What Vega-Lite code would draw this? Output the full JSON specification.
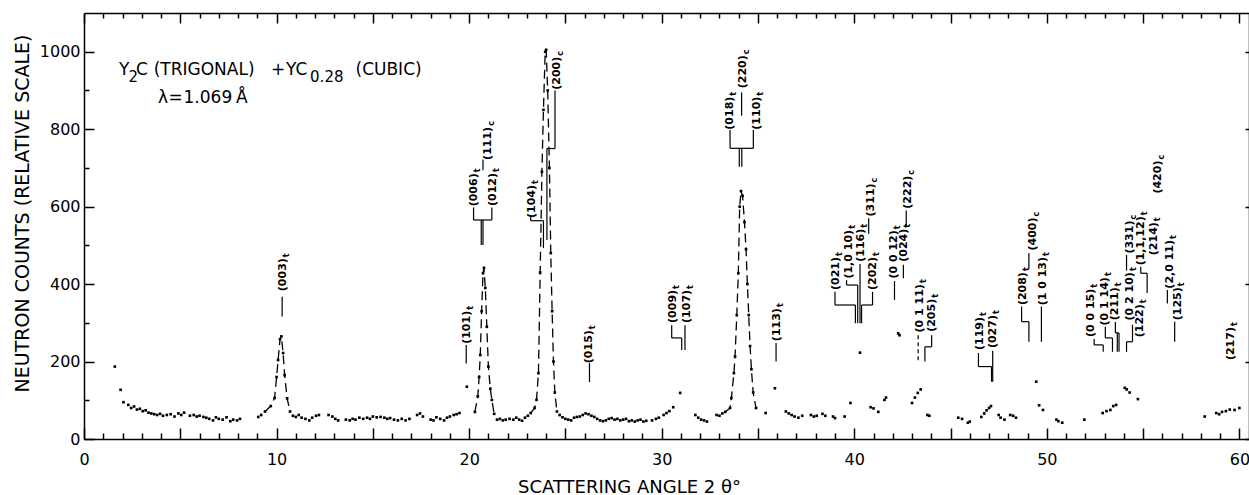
{
  "$schema": "https://vega.github.io/schema/vega-lite/v6.json",
  "width": 1165,
  "height": 426,
  "autosize": {"type": "none"},
  "padding": {"left": 84, "top": 13, "right": 0, "bottom": 56},
  "background": "white",
  "config": {
    "view": {"stroke": null},
    "font": "DejaVu Sans",
    "axis": {"labelFont": "DejaVu Sans", "titleFont": "DejaVu Sans", "labelColor": "black", "titleColor": "black", "domainColor": "black", "tickColor": "black", "grid": false, "domainWidth": 1.5, "tickWidth": 1.5, "labelOverlap": false, "labelFlush": false, "labelBound": false, "titleFontWeight": "normal"}
  },
  "datasets": {
    "pts": [
      {"x":1.6,"y":187},{"x":1.9,"y":127},{"x":2.05,"y":95},{"x":2.3,"y":88},{"x":2.45,"y":80},{"x":2.6,"y":84},{"x":2.75,"y":76},{"x":2.9,"y":78},{"x":3.05,"y":72},{"x":3.2,"y":74},{"x":3.35,"y":68},{"x":3.5,"y":66},{"x":3.65,"y":64},{"x":3.8,"y":62},{"x":3.95,"y":65},{"x":4.1,"y":60},{"x":4.3,"y":62},{"x":4.5,"y":64},{"x":4.7,"y":58},{"x":4.9,"y":66},{"x":5.05,"y":62},{"x":5.2,"y":68},{"x":5.5,"y":60},{"x":5.7,"y":62},{"x":5.85,"y":58},{"x":6.0,"y":60},{"x":6.2,"y":57},{"x":6.35,"y":55},{"x":6.5,"y":52},{"x":6.7,"y":48},{"x":6.85,"y":56},{"x":7.0,"y":52},{"x":7.2,"y":50},{"x":7.4,"y":56},{"x":7.6,"y":46},{"x":7.75,"y":50},{"x":7.95,"y":48},{"x":8.1,"y":52},
      {"x":9.05,"y":57},{"x":9.2,"y":62},
      {"x":9.4,"y":71,"pk":"a"},{"x":9.7,"y":85,"pk":"a"},{"x":9.9,"y":106,"pk":"a"},{"x":10.0,"y":160,"pk":"a"},{"x":10.08,"y":204,"pk":"a"},{"x":10.18,"y":258,"pk":"a"},{"x":10.25,"y":265,"pk":"a"},{"x":10.34,"y":222,"pk":"a"},{"x":10.42,"y":165,"pk":"a"},{"x":10.55,"y":105,"pk":"a"},{"x":10.7,"y":71,"pk":"a"},
      {"x":10.85,"y":60},{"x":11.0,"y":57},{"x":11.15,"y":62},{"x":11.3,"y":55},{"x":11.5,"y":52},{"x":11.7,"y":48},{"x":11.85,"y":55},{"x":12.05,"y":60},{"x":12.2,"y":62},{"x":12.7,"y":62},{"x":12.9,"y":58},{"x":13.05,"y":52},{"x":13.2,"y":48},{"x":13.6,"y":50},{"x":13.8,"y":48},{"x":13.95,"y":52},{"x":14.1,"y":50},{"x":14.3,"y":55},{"x":14.5,"y":52},{"x":14.7,"y":55},{"x":14.85,"y":52},{"x":15.0,"y":58},{"x":15.2,"y":56},{"x":15.4,"y":57},{"x":15.6,"y":55},{"x":15.75,"y":52},{"x":15.9,"y":54},{"x":16.1,"y":50},{"x":16.3,"y":48},{"x":16.5,"y":52},{"x":16.7,"y":48},{"x":16.9,"y":52},{"x":17.3,"y":62},{"x":17.45,"y":66},{"x":17.6,"y":58},{"x":18.0,"y":50},{"x":18.15,"y":48},{"x":18.3,"y":56},{"x":18.5,"y":52},{"x":18.7,"y":48},{"x":18.85,"y":55},{"x":19.0,"y":58},{"x":19.2,"y":62},{"x":19.35,"y":64},{"x":19.5,"y":67},{"x":19.88,"y":135},
      {"x":20.3,"y":70,"pk":"b"},{"x":20.45,"y":110,"pk":"b"},{"x":20.52,"y":160,"pk":"b"},{"x":20.58,"y":217,"pk":"b"},{"x":20.65,"y":330,"pk":"b"},{"x":20.72,"y":428,"pk":"b"},{"x":20.77,"y":442,"pk":"b"},{"x":20.84,"y":390,"pk":"b"},{"x":20.92,"y":290,"pk":"b"},{"x":21.0,"y":187,"pk":"b"},{"x":21.1,"y":130,"pk":"b"},{"x":21.18,"y":101,"pk":"b"},{"x":21.3,"y":65,"pk":"b"},
      {"x":21.45,"y":50},{"x":21.6,"y":52},{"x":21.75,"y":48},{"x":21.9,"y":50},{"x":22.1,"y":52},{"x":22.3,"y":50},{"x":22.45,"y":55},{"x":22.6,"y":50},{"x":22.75,"y":47},{"x":22.9,"y":55},{"x":23.05,"y":60},
      {"x":23.2,"y":67,"pk":"c"},{"x":23.4,"y":80,"pk":"c"},{"x":23.5,"y":101,"pk":"c"},{"x":23.6,"y":170,"pk":"c"},{"x":23.69,"y":430,"pk":"c"},{"x":23.78,"y":690,"pk":"c"},{"x":23.86,"y":850,"pk":"c"},{"x":23.95,"y":1000,"pk":"c"},{"x":24.0,"y":1005,"pk":"c"},{"x":24.08,"y":900,"pk":"c"},{"x":24.17,"y":700,"pk":"c"},{"x":24.24,"y":480,"pk":"c"},{"x":24.31,"y":330,"pk":"c"},{"x":24.38,"y":200,"pk":"c"},{"x":24.45,"y":120,"pk":"c"},{"x":24.56,"y":71,"pk":"c"},
      {"x":24.7,"y":62},{"x":24.85,"y":56},{"x":25.0,"y":52},{"x":25.15,"y":50},{"x":25.3,"y":48},{"x":25.45,"y":55},{"x":25.6,"y":57},{"x":25.75,"y":58},{"x":25.9,"y":62},{"x":26.05,"y":66},{"x":26.2,"y":64},{"x":26.35,"y":60},{"x":26.5,"y":57},{"x":26.65,"y":52},{"x":26.8,"y":48},{"x":26.95,"y":46},{"x":27.1,"y":48},{"x":27.25,"y":52},{"x":27.4,"y":54},{"x":27.55,"y":50},{"x":27.7,"y":52},{"x":27.85,"y":48},{"x":28.0,"y":50},{"x":28.15,"y":52},{"x":28.3,"y":46},{"x":28.45,"y":48},{"x":28.6,"y":45},{"x":28.75,"y":48},{"x":28.9,"y":50},{"x":29.05,"y":45},{"x":29.2,"y":47},{"x":29.5,"y":48},{"x":29.7,"y":52},{"x":29.85,"y":55},{"x":30.1,"y":62},{"x":30.25,"y":67},{"x":30.4,"y":72},{"x":30.6,"y":82},{"x":30.96,"y":119},
      {"x":31.75,"y":62},{"x":31.9,"y":55},{"x":32.05,"y":50},{"x":32.2,"y":48},{"x":32.35,"y":45},{"x":32.85,"y":62},{"x":33.0,"y":60},{"x":33.15,"y":66},
      {"x":33.3,"y":70,"pk":"d"},{"x":33.55,"y":80,"pk":"d"},{"x":33.62,"y":106,"pk":"d"},{"x":33.75,"y":170,"pk":"d"},{"x":33.81,"y":213,"pk":"d"},{"x":33.9,"y":320,"pk":"d"},{"x":33.98,"y":428,"pk":"d"},{"x":34.05,"y":600,"pk":"d"},{"x":34.12,"y":640,"pk":"d"},{"x":34.2,"y":628,"pk":"d"},{"x":34.3,"y":560,"pk":"d"},{"x":34.38,"y":490,"pk":"d"},{"x":34.45,"y":400,"pk":"d"},{"x":34.52,"y":320,"pk":"d"},{"x":34.59,"y":240,"pk":"d"},{"x":34.66,"y":180,"pk":"d"},{"x":34.75,"y":120,"pk":"d"},{"x":34.9,"y":80,"pk":"d"},
      {"x":35.4,"y":67},{"x":35.88,"y":131},{"x":36.45,"y":71},{"x":36.6,"y":66},{"x":36.75,"y":62},{"x":36.9,"y":58},{"x":37.1,"y":55},{"x":37.3,"y":60},{"x":37.75,"y":62},{"x":37.9,"y":58},{"x":38.05,"y":60},{"x":38.35,"y":65},{"x":38.5,"y":60},{"x":38.9,"y":58},{"x":39.0,"y":54},{"x":39.5,"y":58},{"x":39.8,"y":93},{"x":40.3,"y":223},{"x":40.85,"y":82},{"x":41.0,"y":79},{"x":41.25,"y":70},{"x":41.57,"y":101},{"x":41.65,"y":107},{"x":42.28,"y":273},{"x":42.35,"y":268},{"x":43.0,"y":93},{"x":43.15,"y":107},{"x":43.3,"y":119},{"x":43.45,"y":128},{"x":43.8,"y":62},{"x":43.9,"y":60},{"x":45.4,"y":55},{"x":45.6,"y":52},{"x":45.9,"y":42},{"x":46.0,"y":45},{"x":46.6,"y":57},{"x":46.75,"y":66},{"x":46.87,"y":74},{"x":47.0,"y":80},{"x":47.1,"y":85},{"x":47.5,"y":62},{"x":47.6,"y":55},{"x":47.8,"y":50},{"x":48.1,"y":62},{"x":48.25,"y":60},{"x":48.4,"y":55},{"x":49.45,"y":148},{"x":49.6,"y":87},{"x":49.8,"y":75},{"x":50.5,"y":50},{"x":50.6,"y":46},{"x":50.8,"y":42},{"x":51.95,"y":50},{"x":52.9,"y":67},{"x":53.1,"y":72},{"x":53.3,"y":75},{"x":53.45,"y":85},{"x":53.6,"y":88},{"x":54.05,"y":132},{"x":54.15,"y":128},{"x":54.3,"y":120},{"x":54.73,"y":103},{"x":58.2,"y":58},{"x":58.8,"y":67},{"x":58.95,"y":64},{"x":59.1,"y":70},{"x":59.3,"y":72},{"x":59.5,"y":76},{"x":59.75,"y":75},{"x":60.0,"y":80}
    ],
    "labels": [
      {"lx":10.33,"ly":467,"lt":"(003)","ls":"t"},
      {"lx":19.88,"ly":331,"lt":"(101)","ls":"t"},
      {"lx":20.23,"ly":686,"lt":"(006)","ls":"t"},
      {"lx":21.22,"ly":687,"lt":"(012)","ls":"t"},
      {"lx":21.0,"ly":806,"lt":"(111)","ls":"c"},
      {"lx":23.26,"ly":656,"lt":"(104)","ls":"t"},
      {"lx":24.55,"ly":987,"lt":"(200)","ls":"c"},
      {"lx":26.25,"ly":281,"lt":"(015)","ls":"t"},
      {"lx":30.61,"ly":385,"lt":"(009)","ls":"t"},
      {"lx":31.3,"ly":385,"lt":"(107)","ls":"t"},
      {"lx":33.55,"ly":884,"lt":"(018)","ls":"t"},
      {"lx":34.24,"ly":991,"lt":"(220)","ls":"c"},
      {"lx":34.93,"ly":884,"lt":"(110)","ls":"t"},
      {"lx":35.97,"ly":338,"lt":"(113)","ls":"t"},
      {"lx":39.05,"ly":470,"lt":"(021)","ls":"t"},
      {"lx":39.74,"ly":540,"lt":"(1,0 10)","ls":"t"},
      {"lx":40.37,"ly":543,"lt":"(116)","ls":"t"},
      {"lx":40.85,"ly":660,"lt":"(311)","ls":"c"},
      {"lx":40.99,"ly":470,"lt":"(202)","ls":"t"},
      {"lx":42.09,"ly":539,"lt":"(0 0 12)","ls":"t"},
      {"lx":42.6,"ly":543,"lt":"(024)","ls":"t"},
      {"lx":42.8,"ly":680,"lt":"(222)","ls":"c"},
      {"lx":43.41,"ly":400,"lt":"(0 1 11)","ls":"t"},
      {"lx":44.02,"ly":362,"lt":"(205)","ls":"t"},
      {"lx":46.52,"ly":315,"lt":"(119)","ls":"t"},
      {"lx":47.21,"ly":320,"lt":"(027)","ls":"t"},
      {"lx":48.77,"ly":431,"lt":"(208)","ls":"t"},
      {"lx":49.3,"ly":572,"lt":"(400)","ls":"c"},
      {"lx":49.81,"ly":470,"lt":"(1 0 13)","ls":"t"},
      {"lx":52.32,"ly":388,"lt":"(0 0 15)","ls":"t"},
      {"lx":53.01,"ly":418,"lt":"(0 1 14)","ls":"t"},
      {"lx":53.53,"ly":392,"lt":"(211)","ls":"t"},
      {"lx":54.3,"ly":431,"lt":"(0 2 10)","ls":"t"},
      {"lx":54.3,"ly":564,"lt":"(331)","ls":"c"},
      {"lx":54.82,"ly":348,"lt":"(122)","ls":"t"},
      {"lx":54.91,"ly":575,"lt":"(1,1,12)","ls":"t"},
      {"lx":55.56,"ly":560,"lt":"(214)","ls":"t"},
      {"lx":55.77,"ly":719,"lt":"(420)","ls":"c"},
      {"lx":56.38,"ly":514,"lt":"(2,0 11)","ls":"t"},
      {"lx":56.81,"ly":392,"lt":"(125)","ls":"t"},
      {"lx":59.58,"ly":289,"lt":"(217)","ls":"t"}
    ],
    "rules": [
      {"x":10.29,"y":367,"x2":10.29,"y2":316},
      {"x":19.85,"y":243,"x2":19.85,"y2":195},
      {"x":20.23,"y":598,"x2":20.23,"y2":565.5},{"x":21.18,"y":598,"x2":21.18,"y2":565.5},{"x":20.23,"y":565.5,"x2":21.18,"y2":565.5},{"x":20.63,"y":565.5,"x2":20.63,"y2":501},{"x":20.72,"y":565.5,"x2":20.72,"y2":501},{"x":20.72,"y":694,"x2":20.72,"y2":722},
      {"x":23.2,"y":578,"x2":23.2,"y2":563.6},{"x":23.2,"y":563.6,"x2":23.86,"y2":563.6},{"x":23.86,"y":563.6,"x2":23.86,"y2":493},
      {"x":24.46,"y":900,"x2":24.46,"y2":750},{"x":24.46,"y":750,"x2":24.04,"y2":750},{"x":24.04,"y":750,"x2":24.04,"y2":514},
      {"x":26.25,"y":196,"x2":26.25,"y2":147},
      {"x":30.52,"y":294,"x2":30.52,"y2":261},{"x":30.52,"y":261,"x2":31.04,"y2":261},{"x":31.04,"y":261,"x2":31.04,"y2":230},{"x":31.21,"y":294,"x2":31.21,"y2":230},
      {"x":33.55,"y":798,"x2":33.55,"y2":750.6},{"x":34.76,"y":798,"x2":34.76,"y2":750.6},{"x":33.55,"y":750.6,"x2":34.76,"y2":750.6},{"x":34.03,"y":750.6,"x2":34.03,"y2":703},{"x":34.16,"y":750.6,"x2":34.16,"y2":703},{"x":34.15,"y":835,"x2":34.15,"y2":895},
      {"x":35.94,"y":248,"x2":35.94,"y2":200},
      {"x":39.0,"y":380,"x2":39.0,"y2":346},{"x":39.0,"y":346,"x2":40.06,"y2":346},{"x":40.06,"y":346,"x2":40.06,"y2":299},
      {"x":39.6,"y":410,"x2":39.6,"y2":397.6},{"x":39.6,"y":397.6,"x2":40.18,"y2":397.6},{"x":40.18,"y":397.6,"x2":40.18,"y2":299},
      {"x":40.3,"y":452,"x2":40.3,"y2":299},
      {"x":40.75,"y":530,"x2":40.75,"y2":570},
      {"x":40.95,"y":380,"x2":40.95,"y2":346},{"x":40.95,"y":346,"x2":40.38,"y2":346},{"x":40.38,"y":346,"x2":40.38,"y2":299},
      {"x":42.09,"y":408,"x2":42.09,"y2":359},
      {"x":42.55,"y":450,"x2":42.55,"y2":415},
      {"x":42.7,"y":550,"x2":42.7,"y2":590},
      {"x":44.02,"y":268,"x2":44.02,"y2":238},{"x":44.02,"y":238,"x2":43.67,"y2":238},{"x":43.67,"y":238,"x2":43.67,"y2":200},
      {"x":46.45,"y":222,"x2":46.45,"y2":187},{"x":46.45,"y":187,"x2":47.13,"y2":187},{"x":47.13,"y":187,"x2":47.13,"y2":148},
      {"x":47.19,"y":228,"x2":47.19,"y2":148},
      {"x":48.69,"y":342,"x2":48.69,"y2":303},{"x":48.69,"y":303,"x2":49.07,"y2":303},{"x":49.07,"y":303,"x2":49.07,"y2":251},
      {"x":49.07,"y":440,"x2":49.07,"y2":480},
      {"x":49.72,"y":342,"x2":49.72,"y2":251},
      {"x":52.46,"y":258,"x2":52.46,"y2":243},{"x":52.46,"y":243,"x2":52.93,"y2":243},{"x":52.93,"y":243,"x2":52.93,"y2":225},
      {"x":53.04,"y":290,"x2":53.04,"y2":261},{"x":53.04,"y":261,"x2":53.41,"y2":261},{"x":53.41,"y":261,"x2":53.41,"y2":225},
      {"x":53.56,"y":302,"x2":53.56,"y2":274},{"x":53.56,"y":274,"x2":53.75,"y2":274},{"x":53.75,"y":274,"x2":53.75,"y2":225},{"x":53.66,"y":274,"x2":53.66,"y2":225},
      {"x":54.45,"y":295,"x2":54.45,"y2":251},{"x":54.45,"y":251,"x2":54.14,"y2":251},{"x":54.14,"y":251,"x2":54.14,"y2":225},
      {"x":54.14,"y":435,"x2":54.14,"y2":475},
      {"x":54.88,"y":445,"x2":54.88,"y2":428},{"x":54.88,"y":428,"x2":55.21,"y2":428},{"x":55.21,"y":428,"x2":55.21,"y2":377},
      {"x":56.26,"y":385,"x2":56.26,"y2":350},
      {"x":56.64,"y":303,"x2":56.64,"y2":251}
    ],
    "rulesDashed": [
      {"x":43.32,"y":268,"x2":43.32,"y2":200}
    ],
    "ann": [
      {"ax":1.82,"ay":940,"at":"Y"},
      {"ax":2.7,"ay":940,"at":"C"},
      {"ax":3.62,"ay":940,"at":"(TRIGONAL)"},
      {"ax":9.71,"ay":940,"at":"+"},
      {"ax":10.49,"ay":940,"at":"YC"},
      {"ax":14.1,"ay":940,"at":"(CUBIC)"},
      {"ax":3.84,"ay":867,"at":"λ"},
      {"ax":4.39,"ay":867,"at":"="},
      {"ax":5.17,"ay":867,"at":"1.069"},
      {"ax":7.89,"ay":867,"at":"Å"}
    ],
    "annsub": [
      {"ax":2.31,"ay":921,"at":"2"},
      {"ax":11.74,"ay":921,"at":"0.28"}
    ]
  },
  "layer": [
    {
      "data": {"name": "pts"},
      "mark": {"type": "point", "filled": true, "shape": "square", "size": 7, "color": "black", "opacity": 1},
      "encoding": {
        "x": {"field": "x", "type": "quantitative", "scale": {"domain": [0, 60.5], "nice": false, "zero": false},
          "axis": {"orient": "bottom", "values": [0,1,2,3,4,5,6,7,8,9,10,11,12,13,14,15,16,17,18,19,20,21,22,23,24,25,26,27,28,29,30,31,32,33,34,35,36,37,38,39,40,41,42,43,44,45,46,47,48,49,50,51,52,53,54,55,56,57,58,59,60],
            "labelExpr": "datum.value % 10 === 0 ? datum.label : ''",
            "tickSize": {"condition": {"test": "datum.value % 5 === 0", "value": -11}, "value": -6},
            "labelPadding": 23, "labelFontSize": 16, "labelAngle": 0,
            "title": "SCATTERING   ANGLE   2 θ°", "titleFontSize": 18, "titleX": 545, "titleY": 53, "titleAlign": "center", "titleBaseline": "alphabetic"}},
        "y": {"field": "y", "type": "quantitative", "scale": {"domain": [0, 1100], "nice": false, "zero": false},
          "axis": {"orient": "left", "values": [0,100,200,300,400,500,600,700,800,900,1000],
            "labelExpr": "datum.value % 200 === 0 ? datum.label : ''",
            "tickSize": {"condition": {"test": "datum.value % 200 === 0", "value": -10}, "value": -5},
            "labelPadding": 14, "labelFontSize": 16, "format": "d",
            "title": "NEUTRON  COUNTS (RELATIVE  SCALE)", "titleFontSize": 19, "titleX": -62, "titleY": 200, "titleAngle": 270, "titleAlign": "center", "titleBaseline": "middle"}}
      }
    },
    {
      "data": {"name": "pts"},
      "transform": [{"filter": "isValid(datum.pk)"}],
      "mark": {"type": "line", "strokeDash": [9, 5], "strokeWidth": 1.3, "color": "black"},
      "encoding": {
        "x": {"field": "x", "type": "quantitative", "scale": {"domain": [0, 60.5], "nice": false, "zero": false}, "axis": null},
        "y": {"field": "y", "type": "quantitative", "scale": {"domain": [0, 1100], "nice": false, "zero": false}, "axis": null},
        "detail": {"field": "pk", "type": "nominal"}
      }
    },
    {
      "data": {"name": "rules"},
      "mark": {"type": "rule", "color": "black", "strokeWidth": 1.2},
      "encoding": {
        "x": {"field": "x", "type": "quantitative", "scale": {"domain": [0, 60.5], "nice": false, "zero": false},
          "axis": {"orient": "top", "values": [0,1,2,3,4,5,6,7,8,9,10,11,12,13,14,15,16,17,18,19,20,21,22,23,24,25,26,27,28,29,30,31,32,33,34,35,36,37,38,39,40,41,42,43,44,45,46,47,48,49,50,51,52,53,54,55,56,57,58,59,60],
            "labels": false, "title": null,
            "tickSize": {"condition": {"test": "datum.value % 5 === 0", "value": -10}, "value": -5}}},
        "y": {"field": "y", "type": "quantitative", "scale": {"domain": [0, 1100], "nice": false, "zero": false},
          "axis": {"orient": "right", "values": [0,200,400,600,800,1000], "labels": false, "title": null, "tickSize": -4}},
        "x2": {"field": "x2"},
        "y2": {"field": "y2"}
      }
    },
    {
      "data": {"name": "rulesDashed"},
      "mark": {"type": "rule", "color": "black", "strokeWidth": 1.2, "strokeDash": [4, 3]},
      "encoding": {
        "x": {"field": "x", "type": "quantitative", "scale": {"domain": [0, 60.5], "nice": false, "zero": false}, "axis": null},
        "y": {"field": "y", "type": "quantitative", "scale": {"domain": [0, 1100], "nice": false, "zero": false}, "axis": null},
        "x2": {"field": "x2"},
        "y2": {"field": "y2"}
      }
    },
    {
      "data": {"name": "labels"},
      "mark": {"type": "text", "angle": 270, "align": "right", "baseline": "middle", "font": "DejaVu Sans", "fontSize": 11, "fontWeight": "bold", "color": "black"},
      "encoding": {
        "x": {"field": "lx", "type": "quantitative", "scale": {"domain": [0, 60.5], "nice": false, "zero": false}, "axis": null},
        "y": {"field": "ly", "type": "quantitative", "scale": {"domain": [0, 1100], "nice": false, "zero": false}, "axis": null},
        "text": {"field": "lt"}
      }
    },
    {
      "data": {"name": "labels"},
      "mark": {"type": "text", "angle": 270, "align": "left", "baseline": "middle", "dx": 1, "dy": 4, "font": "DejaVu Sans", "fontSize": 8, "fontWeight": "bold", "color": "black"},
      "encoding": {
        "x": {"field": "lx", "type": "quantitative", "scale": {"domain": [0, 60.5], "nice": false, "zero": false}, "axis": null},
        "y": {"field": "ly", "type": "quantitative", "scale": {"domain": [0, 1100], "nice": false, "zero": false}, "axis": null},
        "text": {"field": "ls"}
      }
    },
    {
      "data": {"name": "ann"},
      "mark": {"type": "text", "align": "left", "baseline": "alphabetic", "font": "DejaVu Sans", "fontSize": 17, "color": "black"},
      "encoding": {
        "x": {"field": "ax", "type": "quantitative", "scale": {"domain": [0, 60.5], "nice": false, "zero": false}, "axis": null},
        "y": {"field": "ay", "type": "quantitative", "scale": {"domain": [0, 1100], "nice": false, "zero": false}, "axis": null},
        "text": {"field": "at"}
      }
    },
    {
      "data": {"name": "annsub"},
      "mark": {"type": "text", "align": "left", "baseline": "alphabetic", "font": "DejaVu Sans", "fontSize": 15, "color": "black"},
      "encoding": {
        "x": {"field": "ax", "type": "quantitative", "scale": {"domain": [0, 60.5], "nice": false, "zero": false}, "axis": null},
        "y": {"field": "ay", "type": "quantitative", "scale": {"domain": [0, 1100], "nice": false, "zero": false}, "axis": null},
        "text": {"field": "at"}
      }
    }
  ],
  "resolve": {"axis": {"x": "independent", "y": "independent"}}
}
